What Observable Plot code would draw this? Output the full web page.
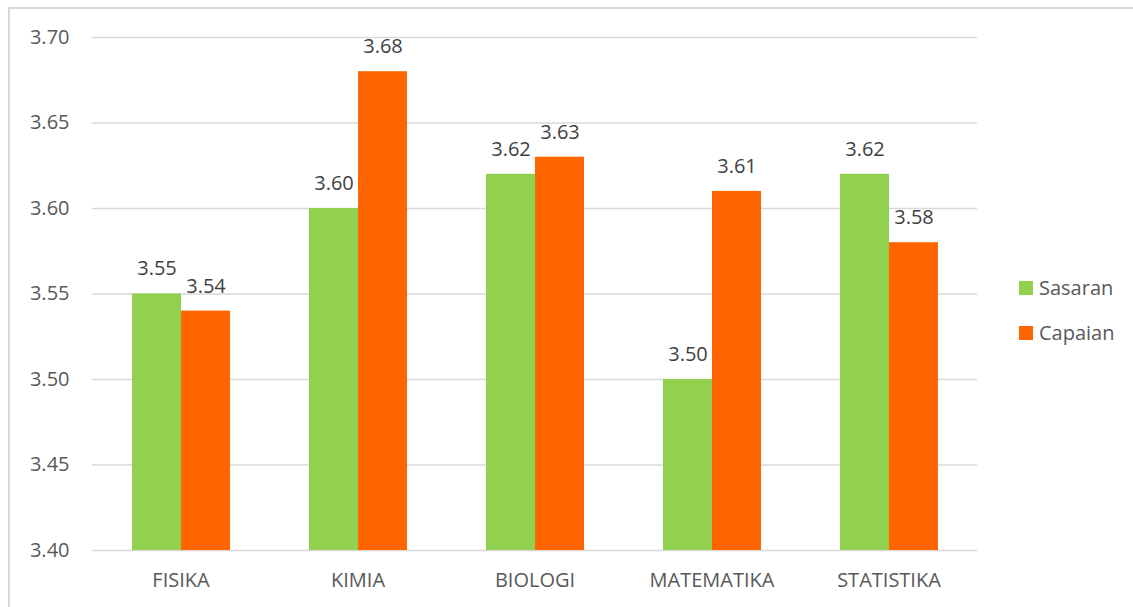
<!DOCTYPE html>
<html>
<head>
<meta charset="utf-8">
<script src="https://cdn.jsdelivr.net/npm/d3@7"></script>
<script src="https://cdn.jsdelivr.net/npm/@observablehq/plot@0.6"></script>
<style>
  html, body { margin: 0; padding: 0; background: #fff; width: 1133px; height: 607px; overflow: hidden; }
  #frame { position: absolute; left: 8px; top: 7px; width: 1200px; height: 700px; border: 2px solid #d9d9d9; box-sizing: border-box; }
  #chart { position: absolute; left: 0; top: 0; }
  .leg { position: absolute; font-family: "Open Sans", sans-serif; font-size: 20px; color: #595959; display: flex; align-items: center; }
  .leg i { display: inline-block; width: 14px; height: 14px; margin-right: 6px; }
</style>
</head>
<body>
<div id="frame"></div>
<div id="chart"></div>
<div class="leg" id="leg0" style="left:1019px; top:274px;"></div>
<div class="leg" id="leg1" style="left:1019px; top:319px;"></div>
<script>
const categories = ["FISIKA", "KIMIA", "BIOLOGI", "MATEMATIKA", "STATISTIKA"];
const seriesNames = ["Sasaran", "Capaian"];
const sasaran = [3.55, 3.60, 3.62, 3.50, 3.62];
const capaian = [3.54, 3.68, 3.63, 3.61, 3.58];
const yTicks = [3.40, 3.45, 3.50, 3.55, 3.60, 3.65, 3.70];
const colors = ["#92d050", "#ff6600"];

const data = [];
categories.forEach((c, i) => {
  data.push({cat: c, series: seriesNames[0], value: sasaran[i]});
  data.push({cat: c, series: seriesNames[1], value: capaian[i]});
});
const yMin = yTicks[0], yMax = yTicks[yTicks.length - 1];

const chart = Plot.plot({
  width: 1133,
  height: 607,
  marginLeft: 91,
  marginRight: 156,
  marginTop: 37,
  marginBottom: 57,
  style: {fontSize: "20px", fontFamily: "Open Sans, sans-serif", color: "#595959", background: "transparent"},
  fx: {domain: categories, padding: 0},
  x: {domain: seriesNames, paddingInner: 0, paddingOuter: 0.772, axis: null},
  y: {domain: [yMin, yMax]},
  color: {domain: seriesNames, range: colors},
  marks: [
    Plot.gridY(yTicks, {stroke: "#d9d9d9", strokeOpacity: 1, strokeWidth: 1.5}),
    Plot.barY(data, {fx: "cat", x: "series", y1: () => yMin, y2: "value", fill: "series"}),
    Plot.text(data, {fx: "cat", x: "series", y: "value", text: d => d.value.toFixed(2), dy: -25, fill: "#404040"}),
    Plot.axisY(yTicks, {tickSize: 0, tickPadding: 23, tickFormat: d => d.toFixed(2), label: null}),
    Plot.axisFx({anchor: "bottom", tickSize: 0, tickPadding: 22, label: null})
  ]
});
document.getElementById("chart").appendChild(chart);

seriesNames.forEach((s, i) => {
  const el = document.getElementById("leg" + i);
  el.innerHTML = `<i style="background:${colors[i]}"></i><span>${s}</span>`;
});
</script>
</body>
</html>
